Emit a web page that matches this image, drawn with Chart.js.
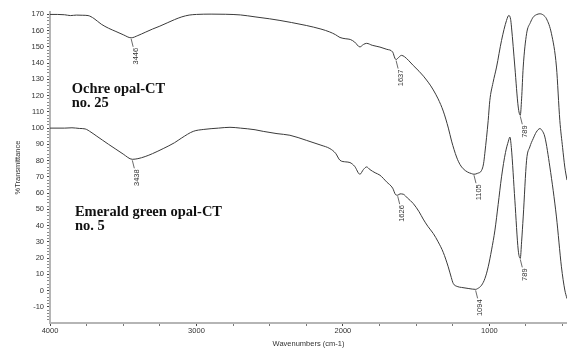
<!DOCTYPE html>
<html>
<head>
<meta charset="utf-8">
<script src="https://cdn.jsdelivr.net/npm/chart.js@4"></script>
<style>
  html, body { margin: 0; padding: 0; background: #fff; }
  #wrap { width: 567px; height: 351px; position: relative; }
</style>
</head>
<body>
<div id="wrap"><canvas id="c"></canvas></div>
<script>
// FTIR spectra: wavenumber (cm-1) vs % transmittance
const ochreWavenumbers = [4000,3950,3900,3860,3820,3780,3740,3700,3650,3600,3550,3500,3446,3400,3350,3300,3250,3200,3150,3100,3050,3000,2900,2800,2700,2600,2500,2430,2350,2250,2150,2090,2050,2020,1980,1950,1920,1884,1860,1838,1800,1747,1700,1660,1645,1637,1620,1600,1580,1550,1520,1480,1450,1429,1400,1383,1350,1315,1280,1258,1224,1200,1179,1150,1122,1105,1080,1053,1040,1031,1008,997,975,951,917,883,867,855,849,826,803,789,780,769,746,720,701,680,655,630,610,576,542,519,500,485,470];
const ochreTransmittance = [170,170,169.8,169.3,169.6,169.5,169.3,167.5,164,161.5,159.5,157.5,155.6,157,159,161,162.8,164.8,166.8,168.5,169.6,170,170.2,170.1,169.7,168.5,167.3,166.3,165,163.2,161,159.2,157.5,155.8,155,154.6,153,150,151.5,152.2,151,149.9,148.5,146.8,143,142.2,143.5,144.8,144,141.5,138.6,135,132,129.6,126,123.5,118,110.5,100,92,82.2,77.5,75,73,72,71.6,72.2,74,78,84.5,104.8,117,128,137.6,154,166.3,169.4,167,162.2,137.6,113,107.9,118,137.6,158.1,165,168.3,169.8,170.4,169.5,167.3,158.1,137.6,104.8,88,76,68];

const emeraldWavenumbers = [4000,3900,3850,3800,3760,3720,3680,3640,3600,3550,3500,3438,3400,3350,3300,3227,3150,3100,3022,2950,2850,2771,2700,2600,2544,2450,2362,2250,2150,2089,2050,2020,1980,1952,1920,1884,1860,1838,1816,1780,1747,1702,1660,1640,1626,1610,1588,1560,1520,1480,1452,1420,1383,1350,1315,1281,1260,1247,1220,1190,1140,1094,1080,1053,1030,1008,985,962,940,917,890,870,860,850,826,803,789,780,769,746,724,701,680,655,640,621,587,542,508,485,470];
const emeraldTransmittance = [100,100,100.2,99.8,99.5,97.5,95,92.5,90,87,84,80.8,81.2,82.5,84.3,87.4,91,94,98,99.2,100,100.5,100,99,98,96.6,95.6,92.5,89.5,87.4,84.5,80.2,79.2,78.8,76.5,71.6,74.5,76.1,74.5,72.5,71,66.9,63,59,58.7,59.5,59.3,57,53.6,48.5,44,39.5,35.1,30,23.5,14.6,8,4.4,2.5,1.9,1.2,0.7,1.2,3.3,7.5,14.6,25,37.2,53,70,85,92,94.5,88,55.6,24.9,19.8,30,45.3,80.2,88.4,93.5,97.5,99.7,98.5,94.5,76.1,45.3,14.6,0.3,-5];

// Marked band positions (cm-1)
const ochrePeaks = [3446, 1637, 1105, 789];
const emeraldPeaks = [3438, 1626, 1094, 789];

// Axis ticks
const xTickLabels = [4000, 3000, 2000, 1000];
const yTickLabels = [-10,0,10,20,30,40,50,60,70,80,90,100,110,120,130,140,150,160,170];

const sampleNames = [
  { lines: ['Ochre opal-CT', 'no. 25'], wn: 3852, val: 124 },
  { lines: ['Emerald green opal-CT', 'no. 5'], wn: 3830, val: 48.4 }
];

const FONT = '"Liberation Sans", Arial, sans-serif';

const toXY = (wn, tr) => wn.map((w, i) => ({ x: w, y: tr[i] }));

const peakLabels = {
  id: 'peakLabels',
  afterDatasetsDraw(chart) {
    const { ctx, scales: { x, y } } = chart;
    ctx.save();
    ctx.strokeStyle = '#444';
    ctx.lineWidth = 0.8;
    ctx.fillStyle = '#333';
    ctx.font = '7.5px ' + FONT;
    [[ochreWavenumbers, ochreTransmittance, ochrePeaks],
     [emeraldWavenumbers, emeraldTransmittance, emeraldPeaks]].forEach(([wn, tr, peaks]) => {
      peaks.forEach(p => {
        const i = wn.indexOf(p);
        const px = x.getPixelForValue(p);
        const py = y.getPixelForValue(tr[i]);
        ctx.beginPath();
        ctx.moveTo(px, py + 1);
        ctx.lineTo(px + 2, py + 9);
        ctx.stroke();
        ctx.save();
        ctx.translate(px + 4.5, py + 10);
        ctx.rotate(-Math.PI / 2);
        ctx.textAlign = 'right';
        ctx.textBaseline = 'middle';
        ctx.fillText(String(p), 0, 0);
        ctx.restore();
      });
    });
    // sample names
    ctx.fillStyle = '#111';
    ctx.font = 'bold 14.5px "Liberation Serif", "Times New Roman", serif';
    ctx.textAlign = 'left';
    ctx.textBaseline = 'middle';
    sampleNames.forEach(s => {
      const sx = x.getPixelForValue(s.wn);
      const sy = y.getPixelForValue(s.val);
      s.lines.forEach((t, k) => ctx.fillText(t, sx, sy + k * 14.5));
    });
    ctx.restore();
  }
};

const lineStyle = {
  borderColor: '#3a3a3a',
  borderWidth: 1,
  pointRadius: 0,
  fill: false,
  cubicInterpolationMode: 'monotone'
};

new Chart(document.getElementById('c'), {
  type: 'line',
  data: {
    datasets: [
      Object.assign({ label: 'Ochre opal-CT no. 25', data: toXY(ochreWavenumbers, ochreTransmittance) }, lineStyle),
      Object.assign({ label: 'Emerald green opal-CT no. 5', data: toXY(emeraldWavenumbers, emeraldTransmittance) }, lineStyle)
    ]
  },
  options: {
    responsive: true,
    maintainAspectRatio: false,
    animation: false,
    layout: { padding: { top: 12, right: 0, left: 0, bottom: 0 } },
    plugins: { legend: { display: false }, tooltip: { enabled: false } },
    scales: {
      x: {
        type: 'linear',
        reverse: true,
        min: 470,
        max: 4000,
        afterBuildTicks(scale) {
          const t = [];
          for (let v = 4000; v >= 500; v -= 250) t.push({ value: v });
          scale.ticks = t;
        },
        afterFit(scale) { scale.height = 28; },
        ticks: {
          autoSkip: false,
          maxRotation: 0,
          padding: 0,
          color: '#333',
          font: { size: 7.5, family: FONT },
          callback: v => xTickLabels.includes(v) ? String(v) : ''
        },
        grid: {
          drawOnChartArea: false,
          tickLength: 3,
          tickColor: c => xTickLabels.includes(c.tick && c.tick.value) ? '#444' : '#777'
        },
        border: { color: '#b5b5b5', width: 2 },
        title: {
          display: true,
          text: 'Wavenumbers (cm-1)',
          color: '#333',
          font: { size: 7.5, family: FONT },
          padding: { top: 0, bottom: 3 }
        }
      },
      y: {
        min: -20,
        max: 171.5,
        afterBuildTicks(scale) {
          const t = [];
          for (let v = -18; v <= 170; v += 2) t.push({ value: v });
          scale.ticks = t;
        },
        afterFit(scale) { scale.width = 50; },
        ticks: {
          autoSkip: false,
          padding: 3,
          color: '#333',
          font: { size: 7.5, family: FONT },
          callback: v => yTickLabels.includes(v) ? String(v) : ''
        },
        grid: {
          drawOnChartArea: false,
          tickLength: 3,
          tickColor: c => yTickLabels.includes(c.tick && c.tick.value) ? '#444' : '#888'
        },
        border: { color: '#b5b5b5', width: 2 },
        title: {
          display: true,
          text: '%Transmittance',
          color: '#333',
          font: { size: 7.5, family: FONT },
          padding: { top: 13, bottom: 0 }
        }
      }
    }
  },
  plugins: [peakLabels]
});
</script>
</body>
</html>
